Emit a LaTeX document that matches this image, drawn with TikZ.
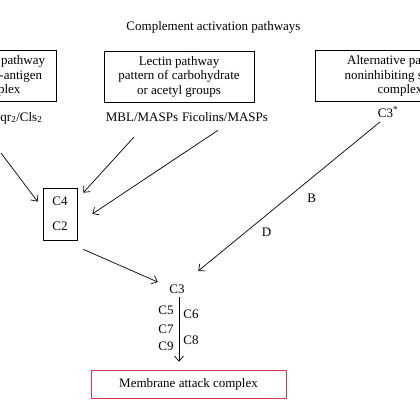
\documentclass[tikz,border=0pt]{standalone}
\usepackage{fontspec}
\setmainfont{Liberation Serif}
\usepackage{xcolor}
\usepackage{tikz}
\usetikzlibrary{arrows.meta, calc}
\definecolor{macred}{RGB}{204,60,78}

\begin{document}
\begin{tikzpicture}[x=1pt, y=-1pt, line width=0.7pt,
	font=\fontsize{13}{14.5}\selectfont,
	arr/.style={-{Straight Barb[length=5pt, width=9pt]}},
	pathbox/.style={draw, align=center, minimum height=51pt, inner sep=2pt}]

	\useasboundingbox (0,0) rectangle (420,420);
	\clip (0,0) rectangle (420,420);

	% pathways
	\node (title) at (213.5,27) {Complement activation pathways};
	\node[pathbox, minimum width=116pt] (classical) at (-2,76) {Classical pathway\\antibody-antigen\\complex};
	\node[pathbox, minimum width=150pt] (lectin) at (179,76.5) {Lectin pathway\\pattern of carbohydrate\\or acetyl groups};
	\node[pathbox, minimum width=170pt] (alternative) at (400,76) {Alternative pathway\\noninhibiting surface\\complex};

	\node[anchor=base east] (c1) at (46,121) {C1qr\textsubscript{2}/Cls\textsubscript{2}};
	\node (mbl) at (142,117) {MBL/MASPs};
	\node (ficolin) at (225,117) {Ficolins/MASPs};
	\node (c3star) at (388,112) {C3\textsuperscript{*}};

	% components
	\node[draw, align=center, minimum width=34pt, minimum height=52pt] (cbox) at (60,214) {C4\\[10pt]C2};
	\node (c3) at (177,289) {C3};
	\node (c5) at (166,310) {C5};
	\node (c7) at (166,329) {C7};
	\node (c9) at (166,346) {C9};
	\node (c6) at (191,314) {C6};
	\node (c8) at (191,340) {C8};
	\node[draw=macred, minimum width=195pt, minimum height=28pt] (mac) at (188.5,384) {Membrane attack complex};

	% arrows
	\coordinate (cls) at (1,153);
	\draw[arr] (cls) -- ($(cbox.north west)+(-5,14)$);
	\draw[arr] ($(mbl.south)+(-8,12)$) -- ($(cbox.north east)+(6,5)$);
	\draw[arr] ($(ficolin.south)+(-7,5)$) -- ($(cbox.east)+(15,0)$);
	\draw[arr] ($(c3star.south)+(-8,1)$) -- node[pos=0.376, yshift=-20pt] {B}
		node[pos=0.624, yshift=-17pt] {D} ($(c3.north east)+(10,-10)$);
	\draw[arr] ($(cbox.south east)+(6,9)$) -- ($(c3.west)+(-8,-7)$);
	\draw[arr] ($(c3.south)+(2,0)$) -- ($(mac.north)+(-9.5,-8)$);
\end{tikzpicture}
\end{document}
